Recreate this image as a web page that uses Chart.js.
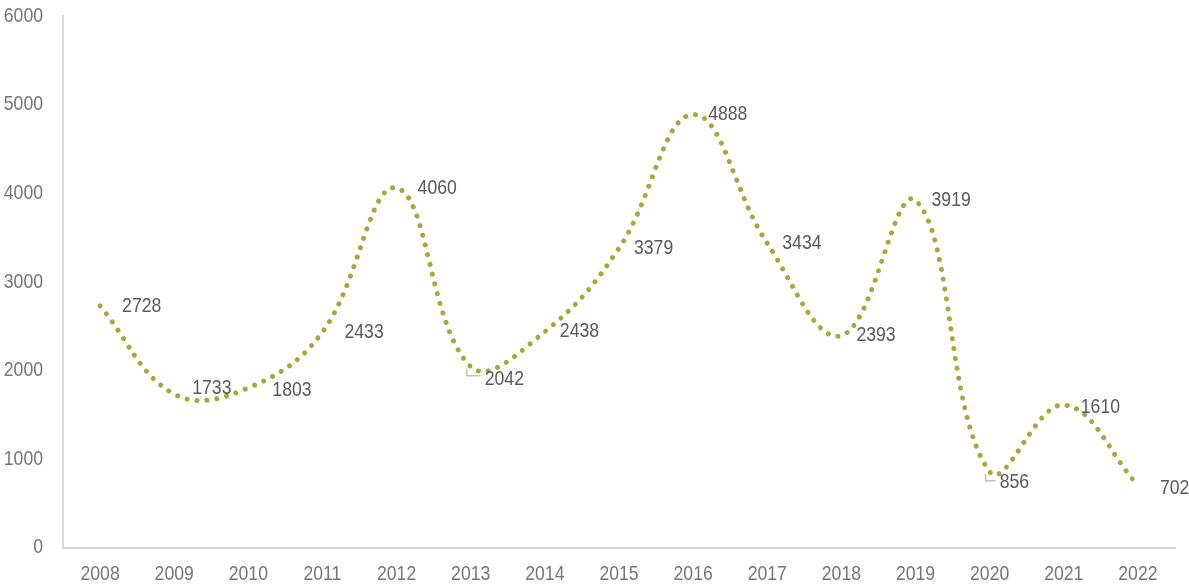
<!DOCTYPE html>
<html lang="en">
<head>
  <meta charset="UTF-8">
  <title>Yearly trend</title>
  <script src="https://cdn.jsdelivr.net/npm/chart.js"></script>
  <style>
    html, body { margin: 0; padding: 0; background: #fff; }
    #wrap { width: 1189px; height: 585px; }
  </style>
</head>
<body>
<div id="wrap"><canvas id="trendChart"></canvas></div>
<script>
const years = ["2008", "2009", "2010", "2011", "2012", "2013", "2014", "2015",
               "2016", "2017", "2018", "2019", "2020", "2021", "2022"];
const counts = [2728, 1733, 1803, 2433, 4060, 2042, 2438, 3379,
                4888, 3434, 2393, 3919, 856, 1610, 702];
const yTicks = [0, 1000, 2000, 3000, 4000, 5000, 6000];

const FONT = "'Liberation Sans', Arial, sans-serif";
const NARROW = 0.84; // squeeze Arial-like glyphs into a narrow face

function narrowText(ctx, text, x, y, align) {
  ctx.save();
  ctx.translate(x, y);
  ctx.scale(NARROW, 1);
  ctx.textAlign = align;
  ctx.fillText(text, 0, 0);
  ctx.restore();
}

// axis tick text drawn narrow at the positions the scales give
const narrowTicks = {
  id: "narrowTicks",
  afterDraw(chart) {
    const ctx = chart.ctx;
    const xs = chart.scales.x, ys = chart.scales.y;
    ctx.save();
    ctx.font = "21px " + FONT;
    ctx.fillStyle = "#767676";
    ctx.textBaseline = "middle";
    ys.ticks.forEach(t => {
      narrowText(ctx, String(t.value), ys.right - 20, ys.getPixelForValue(t.value), "right");
    });
    xs.ticks.forEach((t, i) => {
      narrowText(ctx, years[i], xs.getPixelForTick(i), xs.top + 27, "center");
    });
    ctx.restore();
  }
};

// value labels to the right of each point; a few are pushed down with a small leader line
const valueLabels = {
  id: "valueLabels",
  afterDatasetsDraw(chart, args, opts) {
    const ctx = chart.ctx;
    const pts = chart.getDatasetMeta(0).data;
    ctx.save();
    ctx.font = "21px " + FONT;
    ctx.fillStyle = "#595959";
    ctx.textBaseline = "middle";
    pts.forEach((p, i) => {
      const shift = opts.shifts[i] || { dx: 15, dy: 0 };
      const x = p.x + shift.dx, y = p.y + shift.dy;
      if (shift.leader) {
        ctx.strokeStyle = "#bfbfbf";
        ctx.lineWidth = 1.5;
        ctx.beginPath();
        ctx.moveTo(p.x - 4, p.y + 2);
        ctx.lineTo(p.x - 4, p.y + 9);
        ctx.lineTo(x - 4, p.y + 9);
        ctx.stroke();
      }
      narrowText(ctx, String(counts[i]), x, y, "left");
    });
    ctx.restore();
  }
};

new Chart(document.getElementById("trendChart"), {
  type: "line",
  data: {
    labels: years,
    datasets: [{
      data: counts,
      borderColor: "#a5a83a",
      borderWidth: 5,
      borderDash: [0.01, 10],
      borderCapStyle: "round",
      tension: 0.4,
      pointRadius: 0,
      fill: false
    }]
  },
  options: {
    responsive: true,
    maintainAspectRatio: false,
    animation: false,
    layout: { padding: { top: 16, left: 0, right: 14, bottom: -17 } },
    plugins: {
      legend: { display: false },
      tooltip: { enabled: false },
      valueLabels: {
        shifts: {
          0: { dx: 22, dy: 0 },
          1: { dx: 18, dy: -6 },
          2: { dx: 24, dy: 2 },
          3: { dx: 22, dy: 0 },
          4: { dx: 21, dy: 0 },
          5: { dx: 14, dy: 13, leader: true },
          11: { dx: 16, dy: 0 },
          12: { dx: 10, dy: 10, leader: true },
          13: { dx: 17, dy: 2 },
          14: { dx: 22, dy: 3 }
        }
      }
    },
    scales: {
      x: {
        offset: true,
        grid: { display: false, drawTicks: false },
        border: { display: true, color: "#d9d9d9", width: 2 },
        ticks: {
          padding: 17,
          color: "rgba(0,0,0,0)",
          font: { family: FONT, size: 17 }
        }
      },
      y: {
        min: 0,
        max: 6000,
        afterBuildTicks: axis => { axis.ticks = yTicks.map(v => ({ value: v })); },
        afterFit: axis => { axis.width = 63; },
        grid: { display: false, drawTicks: false },
        border: { display: true, color: "#d9d9d9", width: 2 },
        ticks: {
          padding: 0,
          color: "rgba(0,0,0,0)",
          font: { family: FONT, size: 17 },
          callback: v => String(v)
        }
      }
    }
  },
  plugins: [valueLabels, narrowTicks]
});
</script>
</body>
</html>
